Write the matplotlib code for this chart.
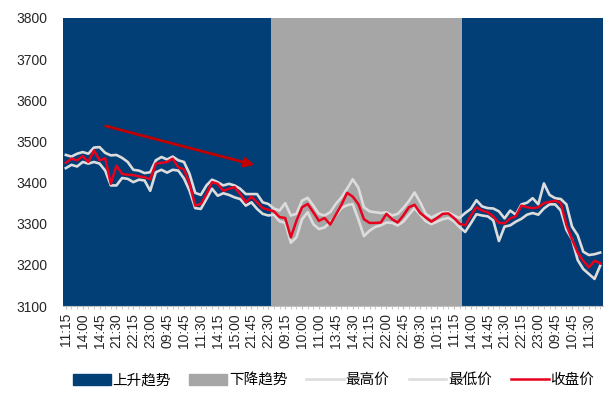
import matplotlib
matplotlib.use('Agg')
import numpy as np
import matplotlib.pyplot as plt
from matplotlib.patches import Patch
from matplotlib.lines import Line2D

plt.rcParams['font.family'] = ['Liberation Sans', 'Noto Sans CJK SC', 'DejaVu Sans']
plt.rcParams['axes.unicode_minus'] = False

# 15分钟K线：最高价 / 最低价 / 收盘价
high = [3467, 3463, 3470, 3474, 3470, 3485, 3486, 3472, 3466, 3467,
        3460, 3450, 3431, 3429, 3423, 3425, 3454, 3462, 3456, 3463,
        3454, 3450, 3421, 3375, 3370, 3393, 3407, 3401, 3393, 3397,
        3393, 3385, 3372, 3372, 3372, 3352, 3348, 3337, 3332, 3350,
        3320, 3324, 3356, 3363, 3344, 3324, 3320, 3328, 3348, 3364,
        3385, 3408, 3388, 3340, 3330, 3328, 3326, 3328, 3320, 3324,
        3338, 3355, 3376, 3352, 3324, 3315, 3322, 3328, 3328, 3320,
        3314, 3326, 3336, 3357, 3342, 3338, 3337, 3330, 3313, 3332,
        3322, 3347, 3351, 3362, 3347, 3398, 3370, 3362, 3360, 3347,
        3293, 3272, 3232, 3224, 3226, 3230]
low = [3435, 3443, 3439, 3450, 3446, 3450, 3446, 3429, 3393, 3393,
       3411, 3409, 3401, 3407, 3405, 3380, 3425, 3431, 3424, 3431,
       3429, 3410, 3380, 3338, 3336, 3360, 3385, 3368, 3374, 3370,
       3364, 3360, 3344, 3352, 3336, 3324, 3320, 3322, 3306, 3302,
       3254, 3267, 3311, 3328, 3299, 3287, 3291, 3303, 3320, 3338,
       3345, 3348, 3311, 3270, 3283, 3292, 3296, 3303, 3302, 3296,
       3305, 3322, 3338, 3322, 3306, 3299, 3305, 3311, 3314, 3306,
       3292, 3280, 3301, 3323, 3320, 3318, 3308, 3258, 3293, 3296,
       3305, 3312, 3322, 3326, 3322, 3337, 3347, 3347, 3332, 3285,
       3262, 3212, 3190, 3178, 3166, 3198]
close = [3448, 3458, 3454, 3464, 3450, 3478, 3454, 3459, 3397, 3441,
         3421, 3419, 3418, 3415, 3413, 3408, 3446, 3448, 3450, 3458,
         3437, 3432, 3397, 3344, 3348, 3372, 3401, 3397, 3380, 3385,
         3389, 3372, 3352, 3366, 3352, 3338, 3334, 3330, 3316, 3314,
         3267, 3307, 3340, 3348, 3328, 3307, 3314, 3298, 3322, 3346,
         3375, 3366, 3348, 3311, 3302, 3302, 3303, 3324, 3311, 3303,
         3320, 3340, 3346, 3326, 3315, 3305, 3314, 3324, 3325, 3314,
         3300, 3296, 3320, 3340, 3332, 3328, 3318, 3302, 3301, 3313,
         3318, 3344, 3340, 3338, 3340, 3350, 3353, 3356, 3350, 3297,
         3262, 3230, 3210, 3194, 3210, 3204]

# 每3根K线标一个时间
tick_labels = ['11:15', '14:00', '14:45', '21:30', '22:15', '23:00', '09:45', '10:45',
               '11:30', '14:15', '15:00', '21:45', '22:30', '09:15', '10:00', '11:00',
               '13:45', '14:30', '21:15', '22:00', '22:45', '09:30', '10:15', '11:15',
               '14:00', '14:45', '21:30', '22:15', '23:00', '09:45', '10:45', '11:30']

# 趋势区间（K线序号）
trend_names = ['上升趋势', '下降趋势', '上升趋势']
trend_start = [0, 37, 71]
trend_end = [36, 70, 95]

blue = '#023F77'
grey = '#A6A6A6'
light = '#DCDCDC'
red = '#E8001C'
trend_colors = {'上升趋势': blue, '下降趋势': grey}

n = len(close)
x = np.arange(n)
ymin, ymax = 3100, 3800

bar_colors = []
for name, s, e in zip(trend_names, trend_start, trend_end):
    bar_colors += [trend_colors[name]] * (e - s + 1)

fig = plt.figure(figsize=(6.06, 3.96), dpi=100)
ax = fig.add_axes([0.104, 0.227, 0.891, 0.728])

ax.bar(x, ymax - ymin, bottom=ymin, width=1.0, color=bar_colors, linewidth=0, zorder=1)
ax.plot(x, high, color=light, lw=1.9, zorder=3)
ax.plot(x, low, color=light, lw=1.9, zorder=3)
ax.plot(x, close, color=red, lw=1.8, zorder=4)

# 下跌方向箭头
ax.annotate('', xy=(34, 3441), xytext=(6.6, 3539),
            arrowprops=dict(arrowstyle='-|>', color='#C00000', lw=2, mutation_scale=14),
            zorder=5)

ax.set_xlim(-0.5, n - 0.5)
ax.set_ylim(ymin, ymax)
ax.set_yticks(np.arange(3100, 3801, 100))
ax.set_xticks(x[::3])
ax.set_xticklabels(tick_labels, rotation=90, fontsize=10, color='#262626')
ax.set_xticks(x, minor=True)
ax.tick_params(axis='y', length=0, pad=11, labelsize=10, labelcolor='#262626')
ax.tick_params(axis='x', which='both', length=2, color='#BFBFBF', pad=3)

for s in ['top', 'right', 'left']:
    ax.spines[s].set_visible(False)
ax.spines['bottom'].set_color('#BFBFBF')

handles = [Patch(facecolor=blue, edgecolor=blue),
           Patch(facecolor=grey, edgecolor=grey),
           Line2D([0], [0], color=light, lw=1.9),
           Line2D([0], [0], color=light, lw=1.9),
           Line2D([0], [0], color=red, lw=1.8)]
labels = ['上升趋势', '下降趋势', '最高价', '最低价', '收盘价']
fig.legend(handles, labels, loc='center', bbox_to_anchor=(0.55, 0.04), ncol=5,
           frameon=False, fontsize=10.5, handlelength=2.6, handleheight=0.8,
           handletextpad=0.1, columnspacing=1.3)

fig.savefig('out.png', dpi=100)
